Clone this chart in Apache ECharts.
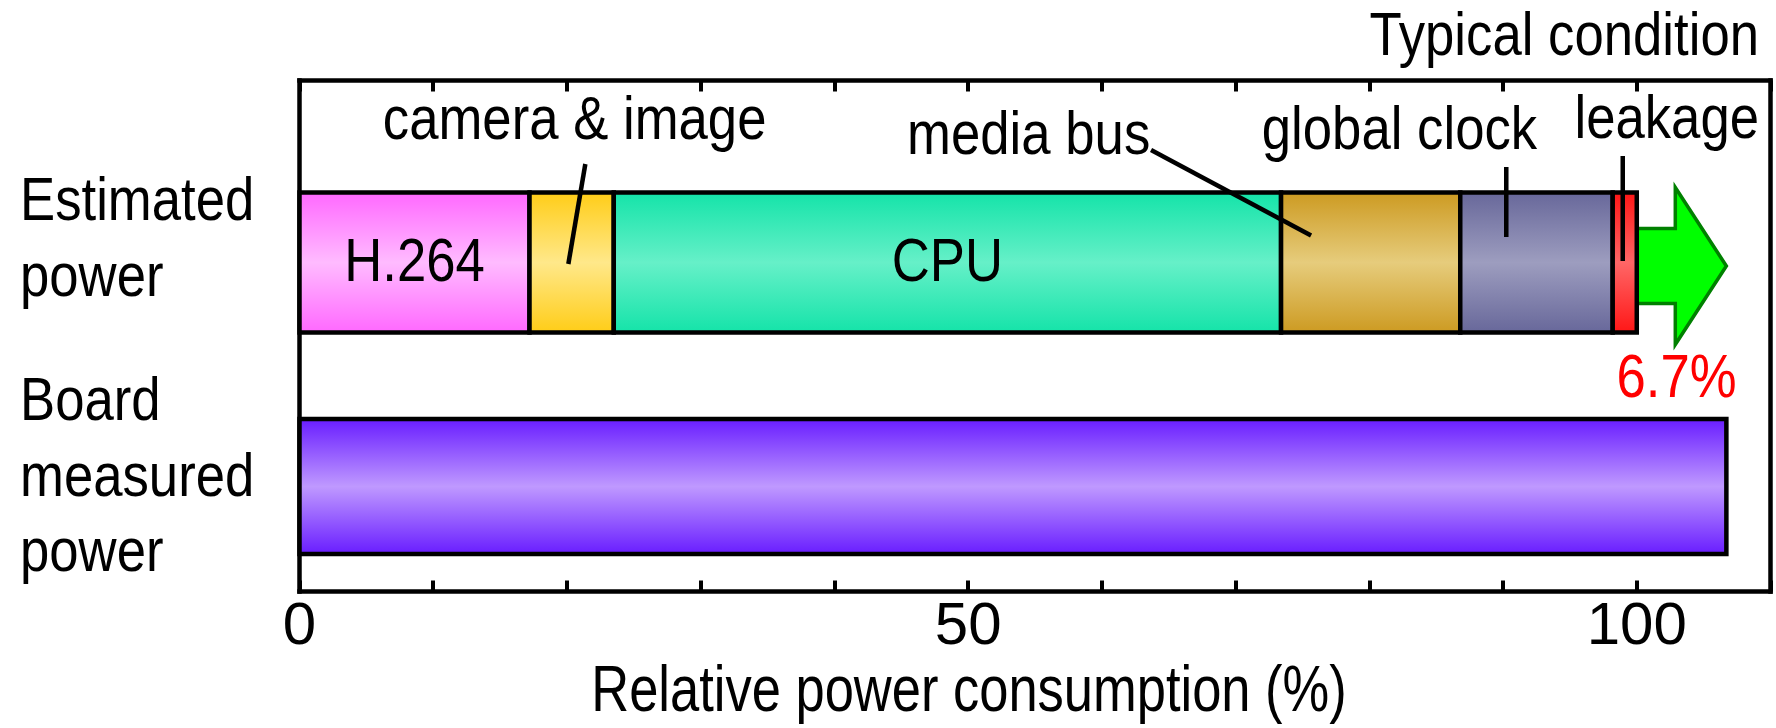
<!DOCTYPE html>
<html>
<head>
<meta charset="utf-8">
<script src="https://cdn.jsdelivr.net/npm/echarts@6/dist/echarts.min.js"></script>
<style>
  html, body { margin: 0; padding: 0; background: #ffffff; }
  #chart { width: 1776px; height: 728px; }
</style>
</head>
<body>
<div id="chart"></div>
<script>
// Rows, top to bottom
const rows = ['Estimated\npower', 'Board\nmeasured\npower'];
// Breakdown of the estimated power (% of the estimated total)
const blockNames = ['H.264', 'camera & image', 'CPU', 'media bus', 'global clock', 'leakage'];
const blockValues = [17.2, 6.3, 49.9, 13.4, 11.4, 1.8];
// Power measured on the board (% of the estimated total)
const boardValue = [106.7];
// Horizontal axis
const axisRange = [0, 110];
const tickStep = 10;
const labelledTicks = [0, 50, 100];
const axisTitle = 'Relative power consumption (%)';
const cornerNote = 'Typical condition';

// ---- styling ----
const FONT = "'Liberation Sans', Arial, sans-serif";
const FS = 62;
const NARROW = 0.85;          // condensed look for the annotation text
const EDGE = 4.5;
const rowFill = [140 / 224, 135 / 224];
const shades = {
  'H.264':          ['#ff66ff', '#ffbbff'],
  'camera & image': ['#ffcc14', '#ffe88a'],
  'CPU':            ['#12e3a8', '#66f0c8'],
  'media bus':      ['#cc991f', '#e6cc7c'],
  'global clock':   ['#666699', '#9d9dbf'],
  'leakage':        ['#ff1414', '#ff6666'],
  'board':          ['#6619ff', '#bf99ff']
};
// names written inside their block
const inside = ['H.264', 'CPU'];
// names written above the bar with a leader line; offsets from the block centre
const callouts = {
  'camera & image': { text: [3, -140.5], line: [[13.7, -98.5], [-3.3, 1.5]] },
  'media bus':      { text: [-342, -126], line: [[-219.6, -112.5], [-59.6, -27]] },
  'global clock':   { text: [-137, -130.5], line: [[-30.2, -95.5], [-30.2, -25.5]] },
  'leakage':        { text: [42, -141.5], line: [[-2, -106.5], [-2, -1.5]] }
};

// ---- build items from the data ----
const items = [];
let acc = 0;
blockNames.forEach((n, i) => {
  items.push({ name: n, start: acc, end: acc + blockValues[i], row: 0 });
  acc += blockValues[i];
});
const estimatedTotal = acc;
items.push({ name: 'board', start: 0, end: boardValue[0], row: 1 });
const gapText = ((boardValue[0] - estimatedTotal) / estimatedTotal * 100).toFixed(1) + '%';

function shade(name) {
  const s = shades[name];
  return new echarts.graphic.LinearGradient(0, 0, 0, 1, [
    { offset: 0, color: s[0] }, { offset: 0.5, color: s[1] }, { offset: 1, color: s[0] }
  ]);
}

function narrowText(text, x, y, color, align, vAlign, size) {
  return {
    type: 'text', x: x, y: y, scaleX: NARROW,
    style: { text: text, x: 0, y: 0, fill: color, fontSize: size || FS, fontFamily: FONT,
      align: align || 'center', verticalAlign: vAlign || 'middle' }
  };
}

function blockItem(params, api) {
  const it = items[params.dataIndex];
  const row = api.value(2);
  const a = api.coord([api.value(0), row]);
  const b = api.coord([api.value(1), row]);
  const h = api.size([0, 1])[1] * rowFill[row];
  const cx = (a[0] + b[0]) / 2, cy = a[1];
  const children = [{
    type: 'rect',
    shape: { x: a[0], y: cy - h / 2, width: b[0] - a[0], height: h },
    style: { fill: shade(it.name), stroke: '#000', lineWidth: EDGE }
  }];
  if (inside.includes(it.name)) {
    children.push(narrowText(it.name, cx, cy + 1, '#000'));
  }
  const c = callouts[it.name];
  if (c) {
    children.push({ type: 'line',
      shape: { x1: cx + c.line[0][0], y1: cy + c.line[0][1], x2: cx + c.line[1][0], y2: cy + c.line[1][1] },
      style: { stroke: '#000', lineWidth: EDGE } });
    children.push(narrowText(it.name, cx + c.text[0], cy + c.text[1], '#000'));
  }
  return { type: 'group', children };
}

// arrow showing the gap between the estimate and the board measurement
function gapArrow(params, api) {
  const a = api.coord([api.value(0), api.value(2)]);
  const b = api.coord([api.value(1), api.value(2)]);
  const len = b[0] - a[0];
  const hb = b[0] - len * 0.57;
  const cy = a[1] + 3.5;
  const s = 37.5, hh = 78.5;
  return { type: 'group', children: [{
    type: 'polygon',
    shape: { points: [[a[0], cy - s], [hb, cy - s], [hb, cy - hh], [b[0], cy], [hb, cy + hh], [hb, cy + s], [a[0], cy + s]] },
    style: { fill: '#00ff00', stroke: '#008000', lineWidth: 3.5, lineJoin: 'miter' }
  }, narrowText(gapText, (a[0] + b[0]) / 2 - 5, cy + 114, '#ff0000')] };
}

const frameLine = { show: true, onZero: false, lineStyle: { color: '#000', width: EDGE, cap: 'square' } };
const frameTick = { show: true, inside: true, length: 11, lineStyle: { color: '#000', width: 4 } };

const chart = echarts.init(document.getElementById('chart'), null, { renderer: 'canvas' });
chart.setOption({
  backgroundColor: '#ffffff',
  animation: false,
  grid: [
    { left: 299.5, right: 5.5, top: 80.5, bottom: 136.5 },
    { left: 299.5, right: 5.5, top: 150.5, bottom: 129.5 }
  ],
  xAxis: [
    { gridIndex: 0, type: 'value', position: 'bottom', min: axisRange[0], max: axisRange[1], interval: tickStep,
      axisLine: frameLine, axisTick: frameTick,
      axisLabel: { formatter: v => labelledTicks.includes(v) ? String(v) : '', color: '#000',
        fontSize: 60, fontFamily: FONT, margin: 6 },
      splitLine: { show: false } },
    { gridIndex: 0, type: 'value', position: 'top', min: axisRange[0], max: axisRange[1], interval: tickStep,
      axisLine: frameLine, axisTick: frameTick,
      axisLabel: { show: false }, splitLine: { show: false } },
    { gridIndex: 1, type: 'value', min: axisRange[0], max: axisRange[1], show: false }
  ],
  yAxis: [
    { gridIndex: 0, type: 'value', position: 'left', min: 0, max: 1, axisLine: frameLine,
      axisTick: { show: false }, axisLabel: { show: false }, splitLine: { show: false } },
    { gridIndex: 0, type: 'value', position: 'right', min: 0, max: 1, axisLine: frameLine,
      axisTick: { show: false }, axisLabel: { show: false }, splitLine: { show: false } },
    { gridIndex: 1, type: 'category', data: rows, inverse: true, show: false }
  ],
  graphic: [
    { type: 'text', x: 20, y: 165.5, scaleX: NARROW,
      style: { text: rows[0], fill: '#000', fontSize: FS, fontFamily: FONT, lineHeight: 75.5, verticalAlign: 'top' } },
    { type: 'text', x: 20, y: 365.5, scaleX: NARROW,
      style: { text: rows[1], fill: '#000', fontSize: FS, fontFamily: FONT, lineHeight: 75.5, verticalAlign: 'top' } },
    { type: 'text', x: 1759, y: 38, scaleX: NARROW,
      style: { text: cornerNote, fill: '#000', fontSize: FS, fontFamily: FONT, align: 'right', verticalAlign: 'middle' } },
    { type: 'text', x: 969, y: 693, scaleX: 0.82,
      style: { text: axisTitle, fill: '#000', fontSize: 64, fontFamily: FONT, align: 'center', verticalAlign: 'middle' } }
  ],
  series: [
    { type: 'custom', xAxisIndex: 2, yAxisIndex: 2, z: 1, renderItem: gapArrow,
      encode: { x: [0, 1], y: 2 },
      data: [[estimatedTotal, boardValue[0], 0]] },
    { type: 'custom', xAxisIndex: 2, yAxisIndex: 2, z: 2, renderItem: blockItem,
      encode: { x: [0, 1], y: 2 },
      data: items.map(d => [d.start, d.end, d.row]) }
  ]
});
</script>
</body>
</html>
